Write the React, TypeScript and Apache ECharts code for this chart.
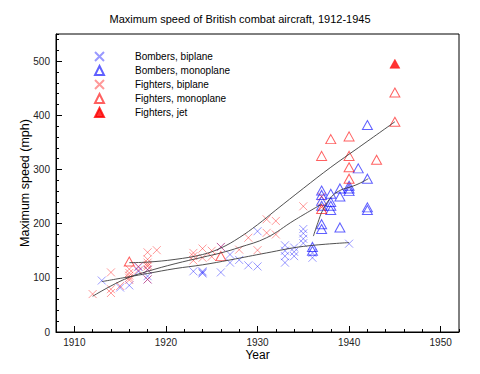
import React, { useEffect, useRef } from "react";
import * as echarts from "echarts";

const xTickValues = [1910, 1920, 1930, 1940, 1950];
const yTickValues = [0, 100, 200, 300, 400, 500];

const bomberBiplane: [number, number][] = [
  [1913, 95], [1915, 82], [1916, 86], [1917, 112], [1917, 120], [1918, 115], [1918, 103], [1918, 97],
  [1923, 112], [1924, 110], [1924, 108], [1924, 112], [1926, 110], [1926, 157],
  [1927, 143], [1927, 128], [1928, 133], [1929, 123], [1930, 121], [1930, 186],
  [1933, 160], [1933, 150], [1933, 140], [1933, 128], [1934, 156], [1934, 148], [1934, 140],
  [1935, 190], [1935, 182], [1935, 172], [1935, 164], [1936, 146], [1936, 137], [1940, 163],
];

const bomberMonoplane: [number, number][] = [
  [1936, 157], [1936, 150], [1937, 261], [1937, 253], [1937, 242], [1937, 233], [1937, 199], [1937, 190],
  [1938, 255], [1938, 240], [1938, 233], [1938, 225], [1939, 265], [1939, 250], [1939, 193],
  [1940, 270], [1940, 265], [1940, 260], [1941, 302], [1942, 382], [1942, 283], [1942, 230], [1942, 225],
];

const fighterBiplane: [number, number][] = [
  [1912, 70], [1914, 110], [1914, 79], [1914, 72], [1915, 85],
  [1916, 116], [1916, 109], [1916, 104], [1916, 100], [1916, 96], [1917, 121], [1917, 114],
  [1918, 147], [1918, 134], [1918, 128], [1918, 124], [1918, 121], [1918, 115], [1918, 97], [1919, 151],
  [1923, 146], [1923, 140], [1923, 132], [1924, 154], [1924, 137], [1925, 150], [1925, 139],
  [1926, 157], [1928, 152], [1929, 174], [1930, 151], [1931, 208], [1931, 183],
  [1932, 205], [1932, 180], [1935, 232], [1937, 250], [1937, 230],
];

const fighterMonoplane: [number, number][] = [
  [1916, 130], [1926, 140], [1937, 325], [1937, 227], [1938, 356], [1940, 361], [1940, 325],
  [1940, 304], [1940, 283], [1943, 318], [1945, 442], [1945, 388],
];

const fighterJet: [number, number][] = [[1945, 495]];

// smoothed trend curves
const trendFighterBiplane: [number, number][] = [
  [1912, 66], [1914, 85], [1916, 101], [1918, 112], [1921, 126], [1924, 138], [1926, 146],
  [1928, 156], [1931, 174], [1934, 206], [1937, 236],
];
const trendBomberBiplane: [number, number][] = [
  [1913, 93], [1916, 102], [1918, 108], [1921, 117], [1924, 124], [1927, 133], [1931, 146],
  [1935, 158], [1940, 165],
];
const trendFighterMonoplane: [number, number][] = [
  [1916, 128], [1918, 129], [1921, 134], [1924, 143], [1926, 155], [1928, 174], [1930, 198],
  [1932, 225], [1935, 265], [1938, 304], [1941, 340], [1945, 388],
];
const trendBomberMonoplane: [number, number][] = [
  [1936.1, 177], [1936.6, 202], [1937.1, 224], [1938.1, 250], [1939.1, 262], [1940.2, 268],
  [1941.1, 274], [1942.1, 283],
];

const FONT = "'Liberation Sans', Arial, Helvetica, sans-serif";
const CROSS = "path://M0,0L10,10M10,0L0,10";

export default function App() {
  const ref = useRef<HTMLDivElement>(null);
  useEffect(() => {
    if (!ref.current) return;
    const chart = echarts.init(ref.current, undefined, { renderer: "svg" });
    const blueX = "rgba(0,0,255,0.5)";
    const redX = "rgba(255,0,0,0.5)";
    const blueT = "rgba(0,0,255,0.78)";
    const redT = "rgba(255,0,0,0.78)";
    const trendLine = (data: [number, number][]) => ({
      type: "line",
      data,
      smooth: 0.4,
      showSymbol: false,
      symbol: "none",
      silent: true,
      lineStyle: { color: "rgba(50,50,50,0.85)", width: 1 },
      z: 5,
    });
    chart.setOption({
      animation: false,
      backgroundColor: "#fff",
      textStyle: { fontFamily: FONT },
      title: {
        text: "Maximum speed of British combat aircraft, 1912-1945",
        left: "center",
        top: 8,
        textStyle: { fontSize: 11, fontWeight: "normal", color: "#000", fontFamily: FONT },
      },
      legend: {
        orient: "vertical",
        left: 94,
        top: 51,
        padding: 0,
        itemWidth: 9,
        itemHeight: 9,
        itemGap: 3,
        data: [
          "Bombers, biplane",
          "Bombers, monoplane",
          "Fighters, biplane",
          "Fighters, monoplane",
          "Fighters, jet",
        ],
        textStyle: { fontSize: 10, color: "#000", lineHeight: 10, padding: [0, 0, 0, 26], fontFamily: FONT },
      },
      grid: {
        left: 56,
        right: 21,
        top: 34,
        bottom: 42,
        show: true,
        borderColor: "#000",
        borderWidth: 1,
        backgroundColor: "transparent",
      },
      xAxis: [
        {
          type: "value",
          min: 1908,
          max: 1952,
          position: "bottom",
          name: "Year",
          nameLocation: "middle",
          nameGap: 17,
          nameMoveOverlap: false,
          nameTextStyle: { fontSize: 12, color: "#000", fontFamily: FONT },
          axisLine: { show: true, lineStyle: { color: "#000", width: 1 } },
          axisTick: { show: true, inside: true, length: 6, customValues: xTickValues, lineStyle: { color: "#000" } },
          axisLabel: {
            customValues: xTickValues,
            fontSize: 10,
            color: "#222",
            margin: 5,
            fontFamily: FONT,
            formatter: (v: number) => String(Math.round(v)),
          },
          splitLine: { show: false },
        },
        {
          type: "value",
          min: 1908,
          max: 1952,
          interval: 2,
          position: "bottom",
          offset: 0,
          axisLine: { show: false },
          axisTick: { show: true, inside: true, length: 3, lineStyle: { color: "#000" } },
          axisLabel: { show: false },
          splitLine: { show: false },
        },
      ],
      yAxis: [
        {
          type: "value",
          min: 0,
          max: 550,
          position: "left",
          name: "Maximum speed (mph)",
          nameLocation: "middle",
          nameGap: 25,
          nameMoveOverlap: false,
          nameTextStyle: { fontSize: 12.5, color: "#000", fontFamily: FONT },
          axisLine: { show: true, lineStyle: { color: "#000", width: 1 } },
          axisTick: { show: true, inside: true, length: 6, customValues: yTickValues, lineStyle: { color: "#000" } },
          axisLabel: {
            customValues: yTickValues,
            fontSize: 10,
            color: "#222",
            margin: 6,
            fontFamily: FONT,
            formatter: (v: number) => String(Math.round(v)),
          },
          splitLine: { show: false },
        },
        {
          type: "value",
          min: 0,
          max: 550,
          interval: 20,
          position: "left",
          offset: 0,
          axisLine: { show: false },
          axisTick: { show: true, inside: true, length: 3, lineStyle: { color: "#000" } },
          axisLabel: { show: false },
          splitLine: { show: false },
        },
      ],
      series: [
        {
          name: "Bombers, biplane",
          type: "scatter",
          data: bomberBiplane,
          symbol: CROSS,
          symbolSize: 8,
          itemStyle: { color: "rgba(0,0,0,0)", borderColor: blueX, borderWidth: 1 },
        },
        {
          name: "Bombers, monoplane",
          type: "scatter",
          data: bomberMonoplane,
          symbol: "triangle",
          symbolSize: [10, 9],
          itemStyle: { color: "rgba(0,0,0,0)", borderColor: blueT, borderWidth: 1 },
        },
        {
          name: "Fighters, biplane",
          type: "scatter",
          data: fighterBiplane,
          symbol: CROSS,
          symbolSize: 8,
          itemStyle: { color: "rgba(0,0,0,0)", borderColor: redX, borderWidth: 1 },
        },
        {
          name: "Fighters, monoplane",
          type: "scatter",
          data: fighterMonoplane,
          symbol: "triangle",
          symbolSize: [10, 9],
          itemStyle: { color: "rgba(0,0,0,0)", borderColor: redT, borderWidth: 1 },
        },
        {
          name: "Fighters, jet",
          type: "scatter",
          data: fighterJet,
          symbol: "triangle",
          symbolSize: [10, 9],
          itemStyle: { color: "#ff0000", borderColor: "#ff0000", borderWidth: 0.5 },
        },
        trendLine(trendFighterBiplane),
        trendLine(trendBomberBiplane),
        trendLine(trendFighterMonoplane),
        trendLine(trendBomberMonoplane),
      ],
    });
    return () => chart.dispose();
  }, []);
  return (
    <div
      ref={ref}
      style={{ position: "fixed", left: 0, top: 0, width: 480, height: 374, background: "#fff" }}
    />
  );
}
